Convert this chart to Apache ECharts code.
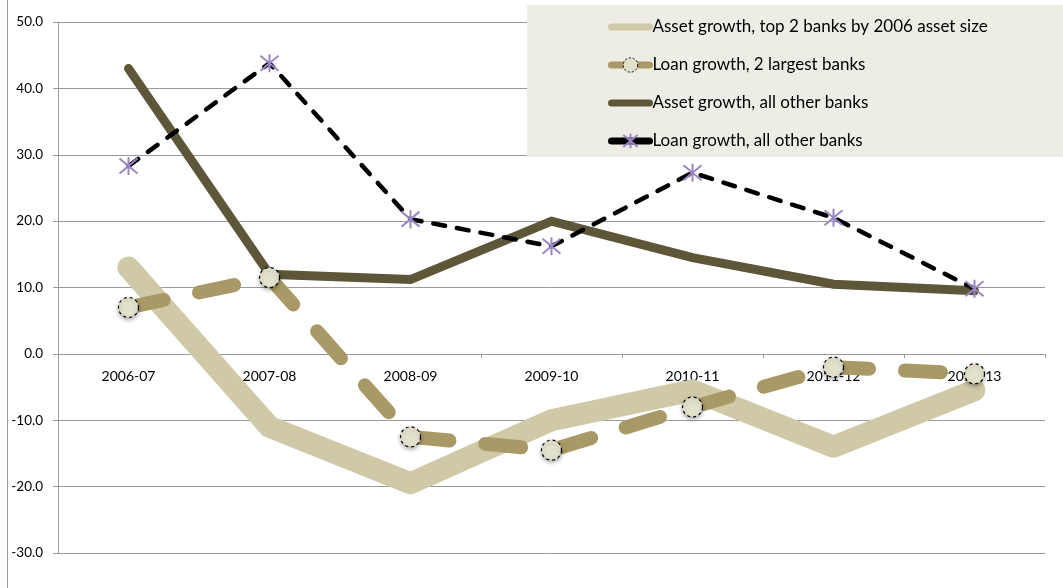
<!DOCTYPE html>
<html>
<head>
<meta charset="utf-8">
<script src="https://cdn.jsdelivr.net/npm/echarts@6/dist/echarts.min.js"></script>
<style>
html,body{margin:0;padding:0;background:#fff;}
#c{width:1063px;height:588px;}
</style>
</head>
<body>
<div id="c"></div>
<script>
var categories = ['2006-07','2007-08','2008-09','2009-10','2010-11','2011-12','2012-13'];
var assetTop2 = [13.0, -11.0, -19.5, -10.0, -5.5, -14.0, -5.5];
var loanTop2 = [7.0, 11.5, -12.5, -14.5, -8.0, -2.0, -3.0];
var assetOthers = [43.0, 12.0, 11.2, 20.0, 14.5, 10.5, 9.5];
var loanOthers = [28.3, 43.8, 20.3, 16.2, 27.3, 20.5, 9.8];
var seriesNames = ['Asset growth, top 2 banks by 2006 asset size','Loan growth, 2 largest banks','Asset growth, all other banks','Loan growth, all other banks'];

var font = 'Lato, "Open Sans", sans-serif';
var chart = echarts.init(document.getElementById('c'), null, {renderer:'canvas'});
var asterisk = 'path://M0,0L10,10M10,0L0,10M5,-1L5,11';
chart.setOption({
  animation: false,
  backgroundColor: '#fff',
  grid: {left: 58, right: 18, top: 22, bottom: 35, containLabel: false},
  graphic: [{
    type: 'line', shape: {x1: 7.5, y1: 0, x2: 7.5, y2: 588},
    style: {stroke: '#9a9a9a', lineWidth: 1}, z: 0
  }],
  legend: {
    orient: 'vertical',
    left: 527, top: 5,
    padding: [13, 90, 7, 81],
    backgroundColor: '#EEEDE5',
    itemGap: 20,
    itemWidth: 38,
    itemHeight: 18,
    textStyle: {fontFamily: font, fontSize: 17, lineHeight: 18, color: '#000', padding: [0,0,0,-2]},
    data: [
      {name: seriesNames[0], lineStyle: {width: 7, cap: 'round'}, itemStyle: {opacity: 0}},
      {name: seriesNames[1], lineStyle: {width: 7, cap: 'round', type: 'solid'},
        itemStyle: {borderType: [2, 2], borderWidth: 1}},
      {name: seriesNames[2], lineStyle: {width: 7, cap: 'round'}, itemStyle: {opacity: 0}},
      {name: seriesNames[3], lineStyle: {width: 7, cap: 'round', type: 'solid'}}
    ]
  },
  xAxis: {
    type: 'category',
    data: categories,
    boundaryGap: true,
    offset: -199,
    axisLine: {onZero: false, lineStyle: {color: '#9a9a9a', width: 1}},
    axisTick: {show: true, length: 4, lineStyle: {color: '#9a9a9a'}},
    axisLabel: {fontFamily: font, fontSize: 14, color: '#000', margin: 15},
    splitLine: {show: false}
  },
  yAxis: {
    type: 'value',
    min: -30, max: 50, interval: 10,
    axisLine: {show: true, lineStyle: {color: '#9a9a9a'}},
    axisTick: {show: true, length: 5, lineStyle: {color: '#9a9a9a'}},
    axisLabel: {fontFamily: font, fontSize: 13.5, color: '#000', margin: 15,
      formatter: function(v){ return v.toFixed(1); }},
    splitLine: {show: true, lineStyle: {color: '#9a9a9a', width: 1}}
  },
  series: [
    {
      name: seriesNames[0], type: 'line', data: assetTop2,
      symbol: 'none',
      lineStyle: {color: '#CFC9A8', width: 22, cap: 'round', join: 'round'},
      itemStyle: {color: '#CFC9A8'}
    },
    {
      name: seriesNames[1], type: 'line', data: loanTop2,
      symbol: 'circle', symbolSize: 20, showAllSymbol: true,
      lineStyle: {color: '#A89966', width: 14, type: [36, 36], cap: 'round', join: 'round'},
      itemStyle: {color: '#E3E0CC', borderColor: '#000', borderWidth: 1.2, borderType: [3, 3],
        shadowBlur: 4, shadowColor: 'rgba(0,0,0,0.35)', shadowOffsetY: 2}
    },
    {
      name: seriesNames[2], type: 'line', data: assetOthers,
      symbol: 'none',
      lineStyle: {color: '#5E5638', width: 9, cap: 'round', join: 'miter'},
      itemStyle: {color: '#5E5638'}
    },
    {
      name: seriesNames[3], type: 'line', data: loanOthers,
      symbol: asterisk, symbolSize: 18, showAllSymbol: true,
      lineStyle: {color: '#000', width: 4.5, type: [12, 12], cap: 'round', join: 'round'},
      itemStyle: {color: '#9B87C4', borderColor: '#9B87C4', borderWidth: 2}
    }
  ]
});
</script>
</body>
</html>
